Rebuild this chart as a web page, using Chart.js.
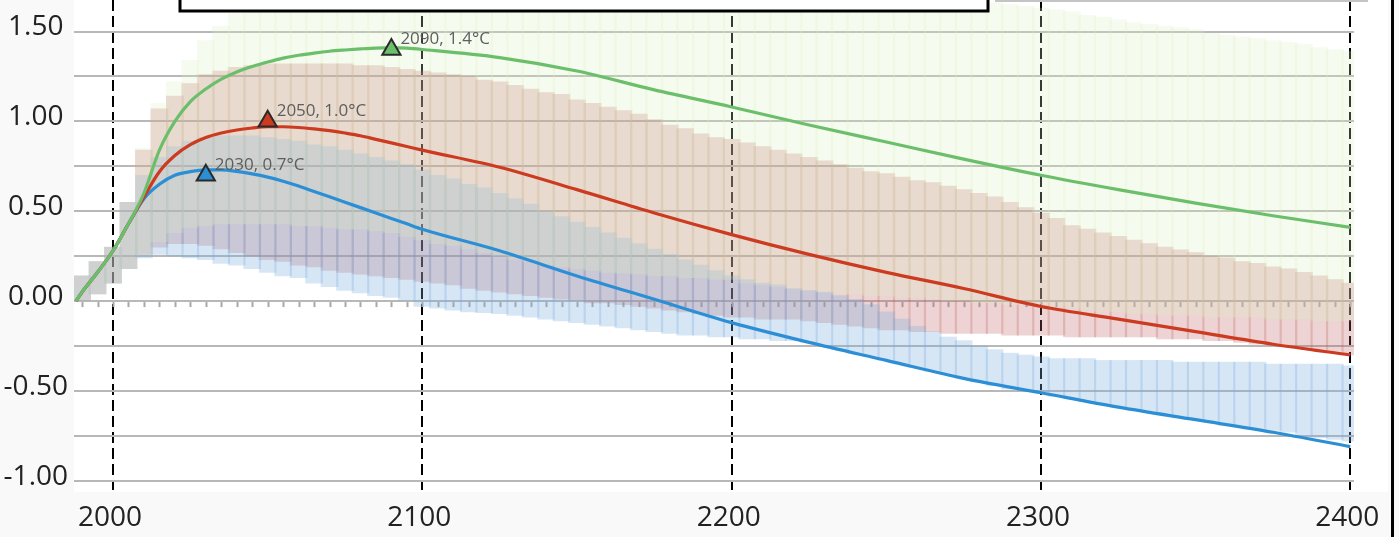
<!DOCTYPE html>
<html>
<head>
<meta charset="utf-8">
<script src="https://cdn.jsdelivr.net/npm/chart.js@4.4.1/dist/chart.umd.min.js"></script>
<style>
  html, body { margin: 0; padding: 0; background: #fff; overflow: hidden; }
  #wrap { width: 1399px; height: 537px; position: relative; }
</style>
</head>
<body>
<div id="wrap"><canvas id="chart" width="1399" height="537"></canvas></div>
<script>
// ---- data ---------------------------------------------------------------

// central temperature paths (°C)
const lineYears = [1988, 1990, 1995, 2000, 2005, 2010, 2015, 2020, 2025, 2030, 2035, 2040, 2045, 2050,
  2055, 2060, 2065, 2070, 2075, 2080, 2085, 2090, 2095, 2100, 2125, 2150, 2175, 2200, 2225, 2250,
  2275, 2300, 2325, 2350, 2375, 2400];
const peak2090 = [0, 0.05, 0.16, 0.28, 0.43, 0.60, 0.84, 1.00, 1.11, 1.18, 1.235, 1.275, 1.305, 1.33,
  1.352, 1.368, 1.38, 1.39, 1.397, 1.403, 1.408, 1.41, 1.407, 1.40, 1.355, 1.28, 1.175, 1.08, 0.98, 0.885,
  0.79, 0.70, 0.62, 0.545, 0.475, 0.41];
const peak2050 = [0, 0.05, 0.16, 0.28, 0.43, 0.58, 0.72, 0.81, 0.87, 0.91, 0.935, 0.952, 0.963, 0.97,
  0.97, 0.966, 0.958, 0.948, 0.935, 0.92, 0.90, 0.88, 0.86, 0.84, 0.745, 0.62, 0.49, 0.37, 0.26, 0.16,
  0.07, -0.03, -0.10, -0.17, -0.24, -0.30];
const peak2030 = [0, 0.05, 0.16, 0.28, 0.43, 0.57, 0.65, 0.70, 0.72, 0.73, 0.73, 0.722, 0.708, 0.69,
  0.667, 0.64, 0.61, 0.58, 0.55, 0.52, 0.49, 0.46, 0.43, 0.40, 0.28, 0.14, 0.01, -0.12, -0.23, -0.33,
  -0.43, -0.51, -0.59, -0.66, -0.73, -0.81];

// peak markers
const peakYears = [2030, 2050, 2090];
const peakTemps = [0.7, 1.0, 1.4];

// uncertainty ranges, one bar every five years
const bandYears = [
  1990, 1995, 2000, 2005, 2010, 2015, 2020, 2025, 2030, 2035,
  2040, 2045, 2050, 2055, 2060, 2065, 2070, 2075, 2080, 2085,
  2090, 2095, 2100, 2105, 2110, 2115, 2120, 2125, 2130, 2135,
  2140, 2145, 2150, 2155, 2160, 2165, 2170, 2175, 2180, 2185,
  2190, 2195, 2200, 2205, 2210, 2215, 2220, 2225, 2230, 2235,
  2240, 2245, 2250, 2255, 2260, 2265, 2270, 2275, 2280, 2285,
  2290, 2295, 2300, 2305, 2310, 2315, 2320, 2325, 2330, 2335,
  2340, 2345, 2350, 2355, 2360, 2365, 2370, 2375, 2380, 2385,
  2390, 2395, 2400];

const rangeHigh2090 = [
  0.14, 0.22, 0.30, 0.55, 0.85, 1.10, 1.22, 1.34, 1.45, 1.53,
  1.60, 1.66, 1.72, 1.76, 1.80, 1.83, 1.85, 1.86, 1.87, 1.87,
  1.87, 1.87, 1.86, 1.86, 1.85, 1.85, 1.84, 1.84, 1.83, 1.83,
  1.82, 1.82, 1.81, 1.81, 1.80, 1.80, 1.79, 1.79, 1.78, 1.78,
  1.77, 1.77, 1.76, 1.76, 1.75, 1.75, 1.74, 1.74, 1.73, 1.72,
  1.72, 1.71, 1.71, 1.70, 1.70, 1.69, 1.69, 1.68, 1.67, 1.66,
  1.65, 1.64, 1.63, 1.62, 1.61, 1.59, 1.58, 1.565, 1.55, 1.54,
  1.53, 1.52, 1.51, 1.49, 1.48, 1.47, 1.46, 1.45, 1.44, 1.43,
  1.41, 1.40, 1.39];
const rangeLow2090 = [
  0.00, 0.04, 0.10, 0.18, 0.26, 0.33, 0.38, 0.41, 0.42, 0.43,
  0.43, 0.43, 0.43, 0.43, 0.42, 0.42, 0.41, 0.40, 0.40, 0.39,
  0.38, 0.36, 0.34, 0.32, 0.31, 0.29, 0.27, 0.25, 0.23, 0.22,
  0.20, 0.19, 0.18, 0.17, 0.16, 0.155, 0.15, 0.14, 0.14, 0.13,
  0.13, 0.12, 0.12, 0.10, 0.09, 0.08, 0.07, 0.06, 0.05, 0.04,
  0.04, 0.03, 0.03, 0.02, 0.02, 0.01, 0.00, 0.00, -0.01, -0.01,
  -0.02, -0.02, -0.02, -0.03, -0.04, -0.05, -0.06, -0.06, -0.07, -0.07,
  -0.08, -0.08, -0.08, -0.09, -0.09, -0.09, -0.09, -0.10, -0.10, -0.10,
  -0.11, -0.11, -0.11];

const rangeHigh2050 = [
  0.14, 0.22, 0.30, 0.55, 0.84, 1.07, 1.14, 1.21, 1.26, 1.28,
  1.30, 1.31, 1.32, 1.32, 1.32, 1.32, 1.32, 1.32, 1.31, 1.31,
  1.30, 1.29, 1.28, 1.27, 1.26, 1.25, 1.23, 1.22, 1.20, 1.18,
  1.16, 1.15, 1.12, 1.10, 1.08, 1.06, 1.04, 1.01, 0.98, 0.96,
  0.93, 0.91, 0.90, 0.88, 0.86, 0.84, 0.82, 0.80, 0.78, 0.76,
  0.74, 0.72, 0.71, 0.69, 0.67, 0.66, 0.64, 0.62, 0.60, 0.58,
  0.55, 0.52, 0.49, 0.46, 0.42, 0.40, 0.38, 0.36, 0.34, 0.32,
  0.30, 0.285, 0.27, 0.25, 0.24, 0.22, 0.21, 0.19, 0.18, 0.16,
  0.14, 0.12, 0.10];
const rangeLow2050 = [
  0.00, 0.04, 0.10, 0.18, 0.26, 0.30, 0.32, 0.32, 0.31, 0.29,
  0.27, 0.25, 0.23, 0.22, 0.20, 0.19, 0.17, 0.16, 0.15, 0.14,
  0.13, 0.12, 0.11, 0.10, 0.09, 0.07, 0.06, 0.05, 0.04, 0.03,
  0.02, 0.01, 0.00, -0.01, -0.01, -0.02, -0.03, -0.04, -0.05, -0.06,
  -0.07, -0.08, -0.09, -0.09, -0.10, -0.10, -0.10, -0.11, -0.12, -0.13,
  -0.14, -0.15, -0.16, -0.16, -0.17, -0.17, -0.18, -0.18, -0.18, -0.18,
  -0.19, -0.19, -0.19, -0.19, -0.20, -0.20, -0.20, -0.20, -0.20, -0.20,
  -0.21, -0.21, -0.21, -0.22, -0.22, -0.23, -0.24, -0.24, -0.25, -0.26,
  -0.27, -0.28, -0.30];

const rangeHigh2030 = [
  0.14, 0.22, 0.30, 0.55, 0.70, 0.80, 0.86, 0.89, 0.91, 0.92,
  0.92, 0.92, 0.91, 0.90, 0.89, 0.87, 0.86, 0.84, 0.82, 0.80,
  0.78, 0.76, 0.73, 0.70, 0.68, 0.65, 0.63, 0.60, 0.57, 0.54,
  0.50, 0.47, 0.44, 0.41, 0.38, 0.35, 0.32, 0.29, 0.26, 0.23,
  0.20, 0.17, 0.14, 0.12, 0.10, 0.09, 0.07, 0.06, 0.05, 0.03,
  0.01, -0.02, -0.06, -0.10, -0.14, -0.17, -0.20, -0.22, -0.25, -0.27,
  -0.29, -0.30, -0.31, -0.32, -0.32, -0.32, -0.33, -0.33, -0.33, -0.33,
  -0.33, -0.34, -0.34, -0.34, -0.34, -0.34, -0.34, -0.35, -0.35, -0.35,
  -0.35, -0.35, -0.36];
const rangeLow2030 = [
  0.00, 0.04, 0.10, 0.18, 0.24, 0.26, 0.25, 0.24, 0.23, 0.21,
  0.20, 0.18, 0.16, 0.14, 0.13, 0.10, 0.08, 0.06, 0.045, 0.03,
  0.02, 0.00, -0.03, -0.04, -0.05, -0.06, -0.065, -0.07, -0.08, -0.09,
  -0.10, -0.11, -0.12, -0.13, -0.14, -0.15, -0.16, -0.17, -0.18, -0.19,
  -0.19, -0.20, -0.20, -0.21, -0.21, -0.22, -0.22, -0.23, -0.25, -0.27,
  -0.29, -0.31, -0.33, -0.35, -0.37, -0.39, -0.41, -0.43, -0.45, -0.47,
  -0.49, -0.50, -0.51, -0.53, -0.54, -0.56, -0.57, -0.59, -0.60, -0.62,
  -0.63, -0.65, -0.66, -0.67, -0.69, -0.70, -0.71, -0.72, -0.73, -0.75,
  -0.76, -0.77, -0.78];

// axis ranges and tick steps
const X_MIN = 1987.39, X_MAX = 2401.2, X_STEP = 100;
const Y_MIN = -1.0512, Y_MAX = 1.6753, Y_STEP = 0.25, Y_LABEL_STEP = 0.5;

// ---- styling ------------------------------------------------------------
const GREEN = '#6bbf6a', RED = '#cc3a20', BLUE = '#2c8fd6';
const FONT = 'Open Sans';

const toPoints = (xs, ys) => xs.map((x, i) => ({ x, y: ys[i] }));
const toRanges = (xs, lo, hi) => xs.map((x, i) => ({ x, y: [lo[i], hi[i]] }));

function rangeSet(label, lo, hi, color, order) {
  return {
    type: 'bar', label, data: toRanges(bandYears, lo, hi),
    backgroundColor: color, borderWidth: 0, barThickness: 17,
    grouped: false, order
  };
}
function pathSet(label, ys, color) {
  return {
    type: 'line', label, data: toPoints(lineYears, ys),
    borderColor: color, borderWidth: 3.2, pointRadius: 0, fill: false,
    cubicInterpolationMode: 'monotone', order: 0
  };
}
const peakColors = [BLUE, RED, GREEN];
const peakSets = peakYears.map((yr, i) => ({
  type: 'line', label: 'peak ' + yr, data: [{ x: yr, y: peakTemps[i] }],
  showLine: false, pointStyle: 'triangle', pointRadius: 10.5,
  backgroundColor: peakColors[i], borderColor: '#2a2a2a', pointBorderWidth: 2,
  order: -1
}));

// frame, zero-line ticks, peak captions and the top legend frame
const decor = {
  id: 'decor',
  beforeDraw(chart) {
    const { ctx, chartArea: a, width, height } = chart;
    ctx.save();
    ctx.fillStyle = '#f9f9f9';
    ctx.fillRect(0, 0, width, height);
    ctx.fillStyle = '#ffffff';
    ctx.fillRect(a.left, 0, a.right + 34 - a.left, a.bottom + 2);
    ctx.restore();
  },
  beforeDatasetsDraw(chart) {
    const { ctx, scales: { x, y } } = chart;
    const y0 = y.getPixelForValue(0);
    ctx.save();
    ctx.strokeStyle = '#a8a8a8';
    ctx.lineWidth = 2;
    bandYears.forEach(yr => {
      const px = Math.round(x.getPixelForValue(yr)) + 0.5;
      ctx.beginPath();
      ctx.moveTo(px, y0 + 1);
      ctx.lineTo(px, y0 + 6);
      ctx.stroke();
    });
    ctx.restore();
  },
  afterDatasetsDraw(chart) {
    const { ctx, scales: { x, y } } = chart;
    ctx.save();
    ctx.font = '17px "' + FONT + '"';
    ctx.fillStyle = '#5e5e5e';
    ctx.textAlign = 'left';
    ctx.textBaseline = 'middle';
    peakYears.forEach((yr, i) => {
      const px = x.getPixelForValue(yr), py = y.getPixelForValue(peakTemps[i]);
      ctx.fillText(yr + ', ' + peakTemps[i].toFixed(1) + '°C', px + 9, py - 10);
    });
    ctx.restore();
  },
  afterDraw(chart) {
    const { ctx, chartArea: a, height } = chart;
    ctx.save();
    // legend frame running off the top edge
    ctx.fillStyle = '#ffffff';
    ctx.fillRect(180, -10, 808, 21);
    ctx.strokeStyle = '#000';
    ctx.lineWidth = 3;
    ctx.strokeRect(180, -10, 808, 21);
    // thin rule along the top right
    ctx.fillStyle = '#c4c4c4';
    ctx.fillRect(995, 0, 373, 2);
    // window edge on the right
    ctx.fillStyle = '#000';
    ctx.fillRect(a.right + 37, 0, 3, height);
    ctx.restore();
  }
};

new Chart(document.getElementById('chart'), {
  type: 'bar',
  data: {
    datasets: [
      ...peakSets,
      pathSet('Peak 2090', peak2090, GREEN),
      pathSet('Peak 2050', peak2050, RED),
      pathSet('Peak 2030', peak2030, BLUE),
      rangeSet('Range 2090', rangeLow2090, rangeHigh2090, 'rgba(220,238,190,0.25)', 1),
      rangeSet('Range 2030', rangeLow2030, rangeHigh2030, 'rgba(122,172,222,0.30)', 2),
      rangeSet('Range 2050', rangeLow2050, rangeHigh2050, 'rgba(192,98,98,0.28)', 3)
    ]
  },
  options: {
    responsive: false,
    animation: false,
    devicePixelRatio: 1,
    layout: { autoPadding: false, padding: { left: 0, right: 45, top: 0, bottom: 0 } },
    plugins: { legend: { display: false }, tooltip: { enabled: false } },
    scales: {
      x: {
        type: 'linear', min: X_MIN, max: X_MAX, offset: false,
        ticks: {
          stepSize: X_STEP, includeBounds: false, autoSkip: false, maxRotation: 0,
          callback: v => String(Math.round(v)),
          font: { family: FONT, size: 28 }, color: '#222', padding: 11, labelOffset: -3
        },
        grid: { color: '#000', lineWidth: 2, drawTicks: false, offset: false },
        border: { display: false, dash: [11, 5] },
        afterFit(s) { s.height = 47; s.paddingLeft = 0; s.paddingRight = 0; }
      },
      y: {
        min: Y_MIN, max: Y_MAX,
        ticks: {
          stepSize: Y_STEP, includeBounds: false, autoSkip: false,
          callback: v => {
            const k = v / Y_LABEL_STEP;
            return Math.abs(k - Math.round(k)) < 1e-6 ? v.toFixed(2) : '';
          },
          font: { family: FONT, size: 28 }, color: '#222',
          crossAlign: 'center', padding: 6, labelOffset: -4
        },
        grid: { color: '#b8b8b8', lineWidth: 2, drawTicks: false },
        border: { display: false },
        afterFit(s) { s.width = 74; s.paddingTop = 0; s.paddingBottom = 0; }
      }
    }
  },
  plugins: [decor]
});
</script>
</body>
</html>
